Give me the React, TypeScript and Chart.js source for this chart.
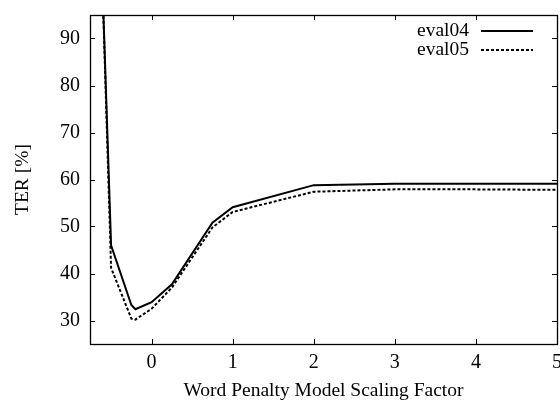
import React, { useEffect, useRef } from 'react';
import { Chart, registerables } from 'chart.js';

Chart.register(...registerables);

const xValues = [-0.6, -0.5, -0.25, -0.2, 0, 0.25, 0.75, 1, 2, 3, 4, 5];
const eval04 = [98, 46, 33.3, 32.4, 33.9, 37.7, 50.8, 54.1, 58.8, 59.1, 59.1, 59.1];
const eval05 = [98, 41.2, 30.4, 30.2, 32.5, 37.0, 49.8, 53.1, 57.4, 57.9, 57.9, 57.8];
const seriesNames = ['eval04', 'eval05'];
const xTicks = [0, 1, 2, 3, 4, 5];
const yTicks = [30, 40, 50, 60, 70, 80, 90];
const xTitle = 'Word Penalty Model Scaling Factor';
const yTitle = 'TER [%]';

const FONT = 'Liberation Serif';

const frameAndTicks = {
  id: 'frameAndTicks',
  afterDraw(chart: any) {
    const { ctx, chartArea } = chart;
    const { left, right, top, bottom } = chartArea;
    const xs = chart.scales.x;
    const ys = chart.scales.y;
    const tl = 5;
    ctx.save();
    ctx.strokeStyle = '#000';
    ctx.lineWidth = 1;
    ctx.beginPath();
    xTicks.forEach((v) => {
      const px = Math.round(xs.getPixelForValue(v)) + 0.5;
      ctx.moveTo(px, bottom);
      ctx.lineTo(px, bottom - tl);
      ctx.moveTo(px, top);
      ctx.lineTo(px, top + tl);
    });
    yTicks.forEach((v) => {
      const py = Math.round(ys.getPixelForValue(v)) + 0.5;
      ctx.moveTo(left, py);
      ctx.lineTo(left + tl, py);
      ctx.moveTo(right, py);
      ctx.lineTo(right - tl, py);
    });
    ctx.stroke();
    ctx.lineWidth = 1.3;
    ctx.strokeRect(Math.round(left) + 0.5, Math.round(top) + 0.5, Math.round(right - left), Math.round(bottom - top));
    // legend
    ctx.font = `19.5px "${FONT}"`;
    ctx.textAlign = 'right';
    ctx.textBaseline = 'middle';
    ctx.fillStyle = '#000';
    chart.data.datasets.forEach((ds: any, i: number) => {
      const y = top + 16 + i * 19;
      ctx.fillText(ds.label, right - 88, y);
      ctx.beginPath();
      ctx.setLineDash(ds.borderDash || []);
      ctx.lineWidth = 2;
      ctx.moveTo(right - 76, y);
      ctx.lineTo(right - 24, y);
      ctx.stroke();
    });
    ctx.restore();
  },
};

export default function App() {
  const ref = useRef<HTMLCanvasElement>(null);
  useEffect(() => {
    document.body.style.margin = '0';
    const chart = new Chart(ref.current as HTMLCanvasElement, {
      type: 'line',
      data: {
        datasets: [
          {
            label: seriesNames[0],
            data: xValues.map((x, i) => ({ x, y: eval04[i] })),
            borderColor: '#000',
            borderWidth: 2,
            pointRadius: 0,
            fill: false,
            tension: 0,
          },
          {
            label: seriesNames[1],
            data: xValues.map((x, i) => ({ x, y: eval05[i] })),
            borderColor: '#000',
            borderWidth: 2,
            borderDash: [3, 2],
            pointRadius: 0,
            fill: false,
            tension: 0,
          },
        ],
      },
      options: {
        responsive: false,
        animation: false,
        layout: { padding: { top: 15, right: 3, left: 0, bottom: 0 } },
        plugins: { legend: { display: false }, tooltip: { enabled: false } },
        scales: {
          x: {
            type: 'linear',
            min: -0.76,
            max: 5,
            grid: { display: false, drawTicks: false },
            border: { display: false },
            afterBuildTicks: (s: any) => { s.ticks = xTicks.map((v) => ({ value: v })); },
            afterFit: (s: any) => { s.height = 59; s.paddingLeft = 0; s.paddingRight = 0; },
            ticks: {
              color: '#000',
              padding: 7,
              maxRotation: 0,
              font: { family: FONT, size: 20 },
              callback: (v: any) => String(v),
            },
            title: {
              display: true,
              text: xTitle,
              color: '#000',
              font: { family: FONT, size: 19.5 },
              padding: { top: 0, bottom: 0 },
            },
          },
          y: {
            min: 25,
            max: 95,
            grid: { display: false, drawTicks: false },
            border: { display: false },
            afterBuildTicks: (s: any) => { s.ticks = yTicks.map((v) => ({ value: v })); },
            afterFit: (s: any) => { s.width = 90; s.paddingTop = 0; s.paddingBottom = 0; },
            ticks: {
              color: '#000',
              padding: 10,
              font: { family: FONT, size: 20 },
              callback: (v: any) => String(v),
            },
            title: {
              display: true,
              text: yTitle,
              color: '#000',
              font: { family: FONT, size: 19.5 },
              padding: { top: 11, bottom: 0 },
            },
          },
        },
      },
      plugins: [frameAndTicks],
    });
    return () => chart.destroy();
  }, []);
  return (
    <div style={{ position: 'absolute', left: 0, top: 0, width: 560, height: 403, background: '#fff' }}>
      <canvas ref={ref} width={560} height={403} style={{ display: 'block' }} />
    </div>
  );
}
